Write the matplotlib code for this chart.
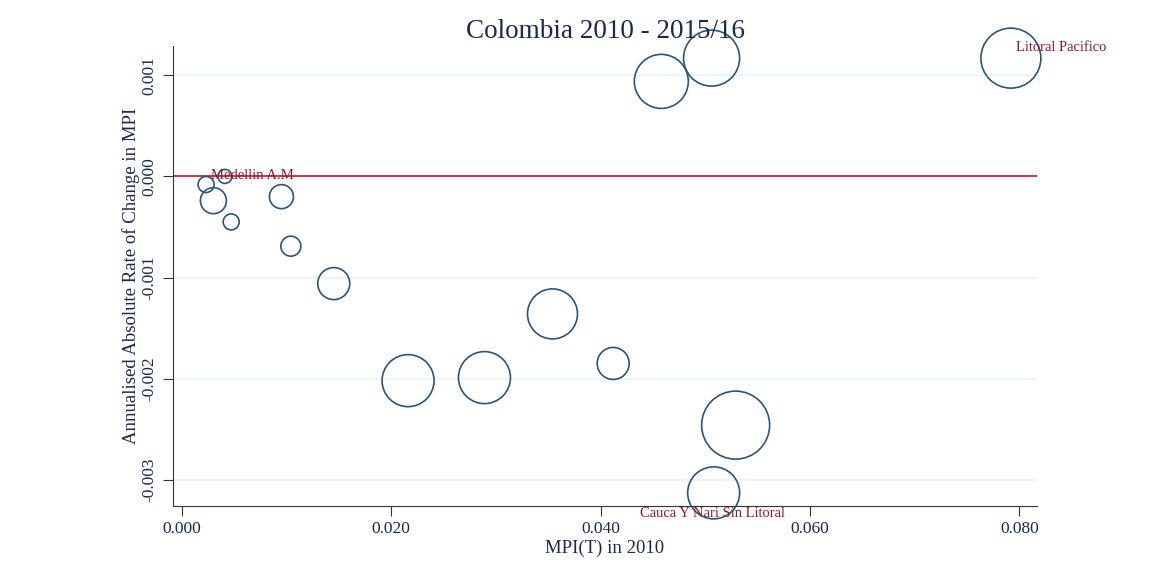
import matplotlib
matplotlib.use("Agg")
import matplotlib.pyplot as plt
import numpy as np

# MPI(T) in 2010, annualised absolute change, bubble weight (relative)
mpi_2010 = [0.0023, 0.0041, 0.0030, 0.0047, 0.0095, 0.0104, 0.0145, 0.0216,
            0.0289, 0.0354, 0.0412, 0.0458, 0.0506, 0.0529, 0.0508, 0.0792]
abs_change = [-0.00008, 0.0000, -0.00024, -0.00045, -0.00020, -0.00069, -0.00106, -0.00202,
              -0.00199, -0.00136, -0.00185, 0.00094, 0.00117, -0.00246, -0.00313, 0.00117]
weight = [64, 49, 169, 64, 144, 100, 256, 676,
          676, 625, 256, 729, 784, 1156, 676, 900]
labels = ["", "Medellin A.M", "", "", "", "", "", "",
          "", "", "", "", "", "", "Cauca Y Nari Sin Litoral", "Litoral Pacifico"]
label_offsets = {1: (-10, 1), 14: (-53, -15), 15: (4, 8)}

x_ticks = [0.0, 0.02, 0.04, 0.06, 0.08]
y_ticks = [-0.003, -0.002, -0.001, 0.0, 0.001]

navy = "#2e5576"
maroon = "#8b1a2e"
txt = "#1c2a48"
serif = ["Liberation Serif", "DejaVu Serif"]

fig = plt.figure(figsize=(11.51, 5.75), dpi=100)
ax = fig.add_axes([0.1503, 0.12, 0.7507, 0.80])

# weight ~ radius^2 in px; convert to points^2 marker area
s = np.array(weight) * (2 * 0.72) ** 2
ax.scatter(mpi_2010, abs_change, s=s, facecolors="none", edgecolors=navy, linewidths=1.2,
           zorder=3, clip_on=False)
ax.axhline(0, color="#c8102e", linewidth=1.2, zorder=2)

for i, lab in enumerate(labels):
    if lab:
        dx, dy = label_offsets[i]
        ax.annotate(lab, (mpi_2010[i], abs_change[i]), xytext=(dx, dy), textcoords="offset points",
                    fontsize=10.5, color=maroon, family=serif, va="center", ha="left", zorder=4,
                    annotation_clip=False)

ax.set_xlim(-0.00086, 0.0817)
ax.set_ylim(-0.00326, 0.00129)
ax.set_xticks(x_ticks)
ax.set_xticklabels([f"{v:.3f}" for v in x_ticks], family=serif, fontsize=12.5, color=txt)
ax.set_yticks(y_ticks)
ax.set_yticklabels([f"{v:.3f}" for v in y_ticks], family=serif, fontsize=12.5, color=txt,
                   rotation=90, va="center")
ax.grid(axis="y", color="#eaf2f3", linewidth=1.2, zorder=0)
ax.set_axisbelow(True)
for side in ("top", "right"):
    ax.spines[side].set_visible(False)
for side in ("left", "bottom"):
    ax.spines[side].set_color("#333333")
ax.tick_params(direction="out", length=7, color="#333333", pad=4)

ax.set_xlabel("MPI(T) in 2010", family=serif, fontsize=13.5, color=txt, labelpad=2)
ax.set_ylabel("Annualised Absolute Rate of Change in MPI", family=serif, fontsize=13.5, color=txt, labelpad=1)
ax.set_title("Colombia 2010 - 2015/16", family=serif, fontsize=19.5, color=txt, pad=6)

fig.savefig("out.png", dpi=100)
